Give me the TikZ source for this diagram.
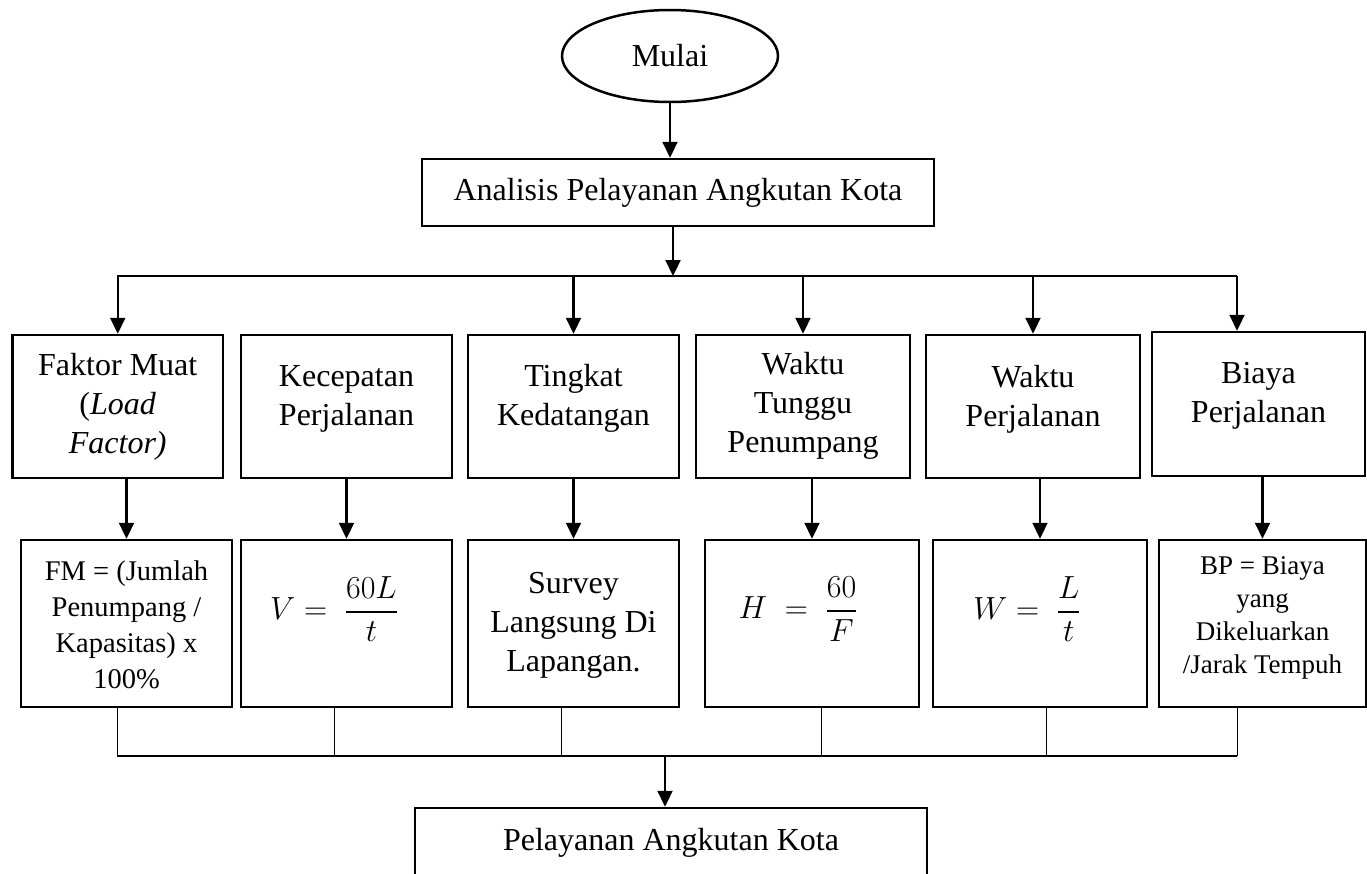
\RequirePackage{fix-cm}
\documentclass[tikz,border=0pt]{standalone}
\usepackage{amsmath}
\usepackage{fontspec}
\setmainfont{Liberation Serif}
\usetikzlibrary{arrows.meta,shapes.geometric}

% display fraction with a heavier bar
\newcommand{\hfr}[2]{\genfrac{}{}{2.5pt}{0}{#1}{#2}}

\tikzset{
  box/.style={draw, line width=2.5pt, inner sep=0pt},
  txt/.style={align=center, inner sep=0pt, font=\fontsize{32}{39}\selectfont},
  txtsmall/.style={align=center, inner sep=0pt, font=\fontsize{28.5}{36}\selectfont},
  txttiny/.style={align=center, inner sep=0pt, font=\fontsize{27}{33}\selectfont},
  arr/.style={line width=2.2pt, -{Triangle[width=15pt,length=16pt]}},
  bus/.style={line width=2.5pt},
  conn/.style={line width=1pt},
}

\begin{document}
\begin{tikzpicture}[x=1pt,y=-1pt]
  \useasboundingbox (0,0) rectangle (1367,873);
  \clip (0,0) rectangle (1367,873);
  \fill[white] (0,0) rectangle (1367,873);

  % start and analysis
  \node[box, ellipse, minimum width=216pt, minimum height=92pt, txt] (start) at (670,56) {Mulai};
  \node[box, minimum width=512pt, minimum height=67pt, txt] (ana) at (678,192.5) {Analisis Pelayanan Angkutan Kota};

  % first row: service criteria
  \node[box, minimum width=210.5pt, minimum height=143pt] (f1) at (117.75,406.5) {};
  \node[box, minimum width=211pt, minimum height=143pt] (f2) at (346.5,406.5) {};
  \node[box, minimum width=211pt, minimum height=143pt] (f3) at (573.5,406.5) {};
  \node[box, minimum width=214pt, minimum height=143pt] (f4) at (803,406.5) {};
  \node[box, minimum width=214pt, minimum height=143pt] (f5) at (1033,406.5) {};
  \node[box, minimum width=213pt, minimum height=144pt] (f6) at (1258.5,404) {};

  \node[txt] (t1) at (f1.center) {Faktor Muat\\(\textit{Load}\\\textit{Factor)}};
  \node[txt] (t2) at ([yshift=8pt]f2.center) {Kecepatan\\Perjalanan};
  \node[txt] (t3) at ([yshift=8pt]f3.center) {Tingkat\\Kedatangan};
  \node[txt] (t4) at ([yshift=1pt]f4.center) {Waktu\\Tunggu\\Penumpang};
  \node[txt] (t5) at ([yshift=7pt]f5.center) {Waktu\\Perjalanan};
  \node[txt] (t6) at ([yshift=8pt]f6.center) {Biaya\\Perjalanan};

  % second row: formulas
  \node[box, minimum width=211pt, minimum height=167pt] (g1) at (126.5,623.5) {};
  \node[box, minimum width=211pt, minimum height=167pt] (g2) at (346.5,623.5) {};
  \node[box, minimum width=211pt, minimum height=167pt] (g3) at (573.5,623.5) {};
  \node[box, minimum width=214pt, minimum height=167pt] (g4) at (812,623.5) {};
  \node[box, minimum width=214pt, minimum height=167pt] (g5) at (1040,623.5) {};
  \node[box, minimum width=207pt, minimum height=167pt] (g6) at (1262.5,623.5) {};

  \node[txtsmall] (u1) at (126.5,625) {FM = (Jumlah\\Penumpang /\\Kapasitas) x\\100\%};
  \node[txt] (u2) at (334,609) {$V=\;\hfr{60L}{t}$};
  \node[txt] (u3) at (573.5,625) {Survey\\Langsung Di\\Lapangan.};
  \node[txt] (u4) at (798,609) {$H\;=\;\hfr{60}{F}$};
  \node[txt] (u5) at (1027,609) {$W=\;\hfr{L}{t}$};
  \node[txttiny] (u6) at (1262.5,618) {BP = Biaya\\yang\\Dikeluarkan\\/Jarak Tempuh};

  % result
  \node[box, minimum width=512pt, minimum height=70pt, txt] (out) at (671,843) {Pelayanan Angkutan Kota};

  % distribution bus
  \coordinate (busL) at (117,276);
  \coordinate (busR) at (1237,276);
  \coordinate (botL) at (117,756);
  \coordinate (botR) at (1237,756);

  \draw[arr] (start.south) -- (start.south |- ana.north);
  \draw[arr] ([xshift=-5pt]ana.south) -- ([xshift=-5pt]ana.south |- busL);
  \draw[bus] (busL) -- (busR);

  \draw[arr] (f1.north |- busL) -- (f1.north);
  \draw[arr] (f3.north |- busL) -- (f3.north);
  \draw[arr] (f4.north |- busL) -- (f4.north);
  \draw[arr] (f5.north |- busL) -- (f5.north);
  \draw[arr] ([xshift=-21.5pt]f6.north |- busL) -- ([xshift=-21.5pt]f6.north);

  % criteria to formulas
  \draw[arr] (f1.south -| g1.north) -- (g1.north);
  \draw[arr] (f2.south -| g2.north) -- (g2.north);
  \draw[arr] (f3.south -| g3.north) -- (g3.north);
  \draw[arr] (f4.south -| g4.north) -- (g4.north);
  \draw[arr] (f5.south -| g5.north) -- (g5.north);
  \draw[arr] (f6.south -| g6.north) -- (g6.north);

  % collecting bus
  \draw[conn] ([xshift=-9.5pt]g1.south) -- ([xshift=-9.5pt]g1.south |- botL);
  \draw[conn] ([xshift=-12.5pt]g2.south) -- ([xshift=-12.5pt]g2.south |- botL);
  \draw[conn] ([xshift=-12.5pt]g3.south) -- ([xshift=-12.5pt]g3.south |- botL);
  \draw[conn] ([xshift=9pt]g4.south) -- ([xshift=9pt]g4.south |- botL);
  \draw[conn] ([xshift=6pt]g5.south) -- ([xshift=6pt]g5.south |- botL);
  \draw[conn] ([xshift=-25.5pt]g6.south) -- ([xshift=-25.5pt]g6.south |- botL);
  \draw[bus] (botL) -- (botR);

  \draw[arr] ([xshift=-6pt]out.north |- botL) -- ([xshift=-6pt]out.north);
\end{tikzpicture}
\end{document}
